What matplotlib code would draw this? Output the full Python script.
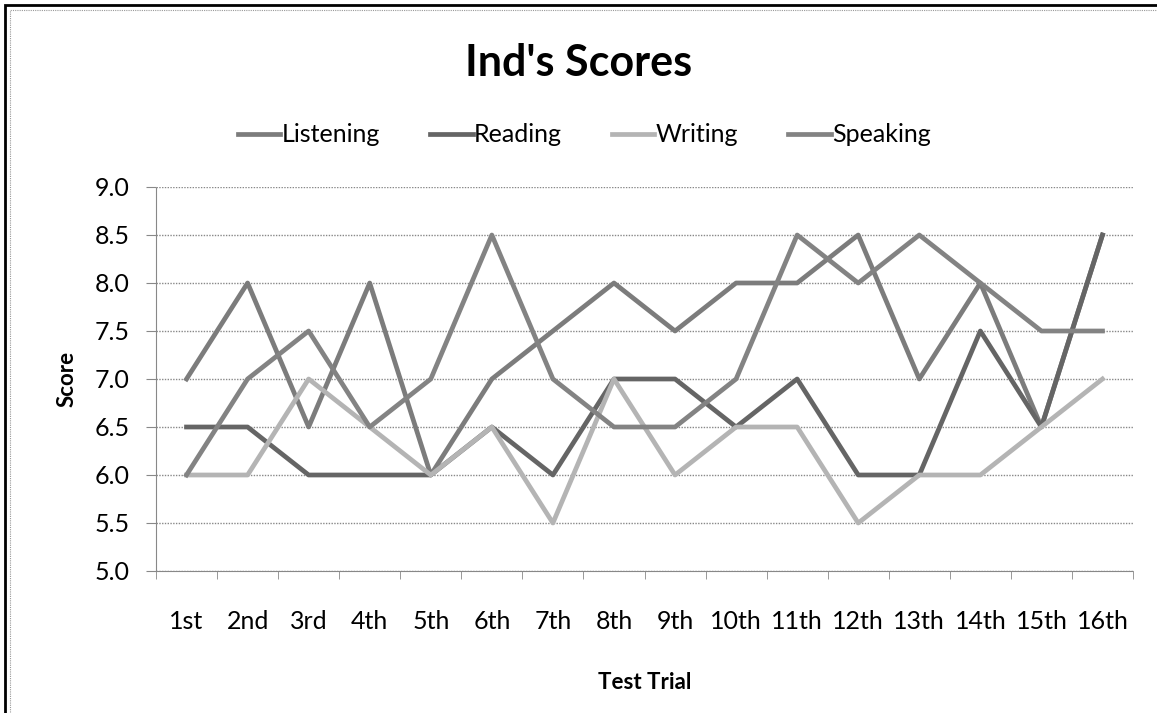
import numpy as np
import matplotlib.pyplot as plt
from matplotlib.patches import Rectangle

trials = ["1st", "2nd", "3rd", "4th", "5th", "6th", "7th", "8th",
          "9th", "10th", "11th", "12th", "13th", "14th", "15th", "16th"]
listening = [7.0, 8.0, 6.5, 8.0, 6.0, 7.0, 7.5, 8.0, 7.5, 8.0, 8.0, 8.5, 7.0, 8.0, 6.5, 8.5]
reading = [6.5, 6.5, 6.0, 6.0, 6.0, 6.5, 6.0, 7.0, 7.0, 6.5, 7.0, 6.0, 6.0, 7.5, 6.5, 8.5]
writing = [6.0, 6.0, 7.0, 6.5, 6.0, 6.5, 5.5, 7.0, 6.0, 6.5, 6.5, 5.5, 6.0, 6.0, 6.5, 7.0]
speaking = [6.0, 7.0, 7.5, 6.5, 7.0, 8.5, 7.0, 6.5, 6.5, 7.0, 8.5, 8.0, 8.5, 8.0, 7.5, 7.5]
y_ticks = [5.0, 5.5, 6.0, 6.5, 7.0, 7.5, 8.0, 8.5, 9.0]

plt.rcParams["font.family"] = ["Lato", "DejaVu Sans"]

W, H = 1157, 713
fig = plt.figure(figsize=(W / 100, H / 100), dpi=100)
ax = fig.add_axes([156 / W, 1 - 571 / H, (1133 - 156) / W, (571 - 187) / H])

x = np.arange(1, len(trials) + 1)
series = [
    ("Listening", listening, "#7c7c7c"),
    ("Reading", reading, "#656565"),
    ("Writing", writing, "#b4b4b4"),
    ("Speaking", speaking, "#838383"),
]
for name, vals, col in series:
    ax.plot(x, vals, color=col, lw=3.4, label=name)

ax.set_xlim(0.5, len(trials) + 0.5)
ax.set_ylim(5.0, 9.0)
ax.set_yticks(y_ticks)
ax.set_yticklabels([f"{v:.1f}" for v in y_ticks], fontsize=18)
ax.set_xticks(x)
ax.set_xticklabels(trials, fontsize=18)
ax.tick_params(axis="x", length=0, pad=28)
ax.set_xticks(np.arange(0.5, len(trials) + 1, 1), minor=True)
ax.tick_params(axis="x", which="minor", length=6, color="#888888", direction="out")
ax.tick_params(axis="y", length=7, color="#888888", pad=12)

ax.grid(axis="y", color="#888888", ls=(0, (1, 1)), lw=1)
ax.set_axisbelow(True)
for s in ["top", "right"]:
    ax.spines[s].set_visible(False)
for s in ["left", "bottom"]:
    ax.spines[s].set_color("#888888")
    ax.spines[s].set_linestyle((0, (1, 1)))

ax.set_ylabel("Score", fontsize=16, fontweight="bold", labelpad=12)
ax.set_xlabel("Test Trial", fontsize=16, fontweight="bold", labelpad=28)

fig.text(0.5, 1 - 63 / H, "Ind's Scores", ha="center", va="center", fontsize=31, fontweight="bold")
fig.legend(loc="center", bbox_to_anchor=(0.505, 1 - 135 / H), ncol=4, frameon=False,
           fontsize=18, handlelength=1.7, handletextpad=0.05, columnspacing=2.0)

fig.add_artist(Rectangle((5 / W, -0.1), 1.2, 1 - 5 / H + 0.1, transform=fig.transFigure,
                         fill=False, ec="black", lw=2))
fig.add_artist(Rectangle((10 / W, -0.1), 1.2, 1 - 10 / H + 0.1, transform=fig.transFigure,
                         fill=False, ec="#999999", lw=0.8, ls=(0, (1, 1))))

fig.savefig("out.png", dpi=100)
